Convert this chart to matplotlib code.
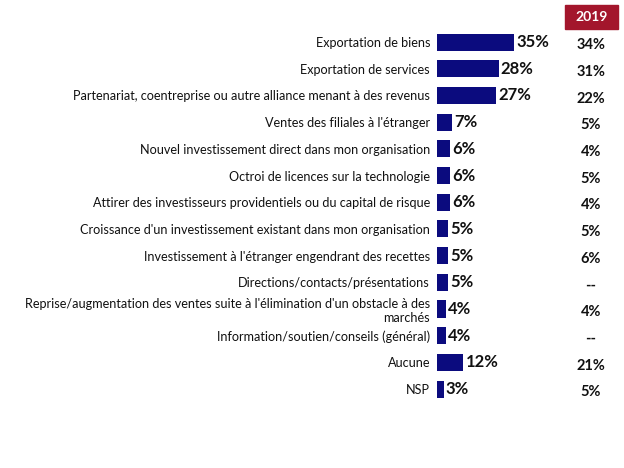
import numpy as np
import matplotlib.pyplot as plt
from matplotlib.patches import Rectangle

plt.rcParams['font.family'] = ['Lato', 'DejaVu Sans']

categories = [
    "Exportation de biens",
    "Exportation de services",
    "Partenariat, coentreprise ou autre alliance menant à des revenus",
    "Ventes des filiales à l'étranger",
    "Nouvel investissement direct dans mon organisation",
    "Octroi de licences sur la technologie",
    "Attirer des investisseurs providentiels ou du capital de risque",
    "Croissance d'un investissement existant dans mon organisation",
    "Investissement à l'étranger engendrant des recettes",
    "Directions/contacts/présentations",
    "Reprise/augmentation des ventes suite à l'élimination d'un obstacle à des\nmarchés",
    "Information/soutien/conseils (général)",
    "Aucune",
    "NSP",
]
values_2021 = [35, 28, 27, 7, 6, 6, 6, 5, 5, 5, 4, 4, 12, 3]
labels_2019 = ["34%", "31%", "22%", "5%", "4%", "5%", "4%", "5%", "6%", "--", "4%", "--", "21%", "5%"]

W, H = 624, 468
fig = plt.figure(figsize=(W / 100, H / 100), dpi=100)

# axes placed so that bars start at x=437 px, rows from y=42 to y=389 px
left_px, top_px, bot_px = 437, 28.7, 402.4
px_per_pct = 2.2
ax = fig.add_axes([left_px / W, 1 - bot_px / H, (W - left_px) / W, (bot_px - top_px) / H])
ax.set_xlim(0, (W - left_px) / px_per_pct)
ax.set_ylim(len(categories) - 0.5, -0.5)

y = np.arange(len(categories))
ax.barh(y, values_2021, height=0.64, color="#0b0b7e")

for yi, v in zip(y, values_2021):
    ax.text(v + 1.0, yi, f"{v}%", va="center", ha="left", fontsize=12,
            fontweight="bold", color="#111111")

x19 = (591 - left_px) / px_per_pct
for yi, lab in zip(y, labels_2019):
    ax.text(x19, yi + 0.12, lab, va="center", ha="center", fontsize=10.5,
            fontweight="bold", color="#111111")

ax.set_yticks(y)
ax.set_yticklabels(categories, fontsize=9.1, color="#111111")
ax.tick_params(axis="y", length=0, pad=5)
ax.set_xticks([])
for s in ax.spines.values():
    s.set_visible(False)

# 2019 header box
fig.patches.append(Rectangle((565 / W, 1 - 29 / H), 53 / W, 24 / H,
                             transform=fig.transFigure, color="#a3162c"))
fig.text(591.5 / W, 1 - 17 / H, "2019", ha="center", va="center", fontsize=10,
         fontweight="bold", color="white")

fig.savefig("out.png", dpi=100)
